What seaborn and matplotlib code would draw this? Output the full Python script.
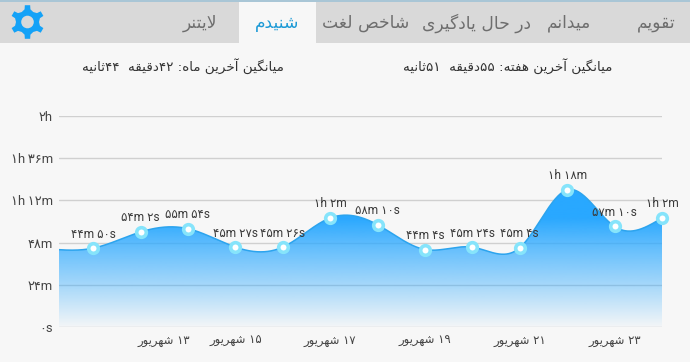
import numpy as np
import pandas as pd
import matplotlib
matplotlib.use("Agg")
import matplotlib.pyplot as plt
from matplotlib.patches import Rectangle, Polygon, Circle, PathPatch
from matplotlib.path import Path
import seaborn as sns

# chart values
days = [0, 1, 2, 3, 4, 5, 6, 7, 8, 9, 10, 11, 12]
minutes = [44, 54, 55, 45, 45, 62, 58, 44, 45, 45, 78, 57, 62]
seconds = [50, 2, 54, 27, 26, 0, 10, 4, 24, 4, 0, 10, 0]
point_labels = ["۴۴m ۵۰s", "۵۴m ۲s", "۵۵m ۵۴s", "۴۵m ۲۷s", "۴۵m ۲۶s", "۱h ۲m", "۵۸m ۱۰s",
                "۴۴m ۴s", "۴۵m ۲۴s", "۴۵m ۴s", "۱h ۱۸m", "۵۷m ۱۰s", "۱h ۲m"]
# the curve comes in from a point cut off by the left edge
hidden_day = -1
hidden_value = 44.6

y_ticks = [0, 24, 48, 72, 96, 120]
y_labels = ["۰s", "۲۴m", "۴۸m", "۱h ۱۲m", "۱h ۳۶m", "۲h"]
x_ticks = [1.5, 3, 5, 7, 9, 11]
x_labels = ["۱۳ شهریور", "۱۵ شهریور", "۱۷ شهریور", "۱۹ شهریور", "۲۱ شهریور", "۲۳ شهریور"]

tab_names = ["تقویم", "میدانم", "در حال یادگیری", "شاخص لغت", "شنیدم", "لایتنر"]
tab_x = [656, 569, 476, 366, 277, 200]
week_avg = "میانگین آخرین هفته: ۵۵دقیقه  ۵۱ثانیه"
month_avg = "میانگین آخرین ماه: ۴۲دقیقه  ۴۴ثانیه"

GREY = "#D9D9D9"
PAGE = "#F7F7F7"
BLUE = "#29A8FF"
FA = ["DejaVu Sans"]
MIXED = ["Roboto", "DejaVu Sans"]

# matplotlib does no arabic shaping, so pick the joined forms here
# letter: isolated, final, initial, medial
FORMS = {
    "ا": "\uFE8D\uFE8E", "آ": "\uFE81\uFE82", "د": "\uFEA9\uFEAA", "ر": "\uFEAD\uFEAE",
    "و": "\uFEED\uFEEE",
    "ب": "\uFE8F\uFE90\uFE91\uFE92", "پ": "\uFB56\uFB57\uFB58\uFB59", "ت": "\uFE95\uFE96\uFE97\uFE98",
    "ث": "\uFE99\uFE9A\uFE9B\uFE9C", "ح": "\uFEA1\uFEA2\uFEA3\uFEA4", "خ": "\uFEA5\uFEA6\uFEA7\uFEA8",
    "ش": "\uFEB5\uFEB6\uFEB7\uFEB8", "ص": "\uFEB9\uFEBA\uFEBB\uFEBC", "غ": "\uFECD\uFECE\uFECF\uFED0",
    "ف": "\uFED1\uFED2\uFED3\uFED4", "ق": "\uFED5\uFED6\uFED7\uFED8", "گ": "\uFB92\uFB93\uFB94\uFB95",
    "ل": "\uFEDD\uFEDE\uFEDF\uFEE0", "م": "\uFEE1\uFEE2\uFEE3\uFEE4", "ن": "\uFEE5\uFEE6\uFEE7\uFEE8",
    "ه": "\uFEE9\uFEEA\uFEEB\uFEEC", "ی": "\uFBFC\uFBFD\uFBFE\uFBFF",
}


def shape(text):
    text = text.replace("لا", "\uFEFB")
    out = []
    for i, ch in enumerate(text):
        if ch == "\uFEFB":
            prev = text[i - 1] if i else " "
            out.append("\uFEFC" if prev in FORMS and len(FORMS[prev]) == 4 else ch)
            continue
        if ch not in FORMS:
            out.append(ch)
            continue
        prev = text[i - 1] if i else " "
        nxt = text[i + 1] if i + 1 < len(text) else " "
        joins_prev = prev in FORMS and len(FORMS[prev]) == 4
        joins_next = len(FORMS[ch]) == 4 and (nxt in FORMS or nxt == "\uFEFB")
        if joins_prev and joins_next:
            out.append(FORMS[ch][3])
        elif joins_next:
            out.append(FORMS[ch][2])
        elif joins_prev:
            out.append(FORMS[ch][1])
        else:
            out.append(FORMS[ch][0])
    # visual order: reverse everything but keep digit runs as they are
    runs = []
    for ch in out:
        if ch in "۰۱۲۳۴۵۶۷۸۹" and runs and runs[-1][-1] in "۰۱۲۳۴۵۶۷۸۹":
            runs[-1] += ch
        else:
            runs.append(ch)
    return "".join(runs[::-1])


def natural_spline(x, y, n=900):
    x = np.asarray(x, float)
    y = np.asarray(y, float)
    h = np.diff(x)
    A = np.zeros((len(x), len(x)))
    b = np.zeros(len(x))
    A[0, 0] = A[-1, -1] = 1
    for i in range(1, len(x) - 1):
        A[i, i - 1:i + 2] = h[i - 1], 2 * (h[i - 1] + h[i]), h[i]
        b[i] = 6 * ((y[i + 1] - y[i]) / h[i] - (y[i] - y[i - 1]) / h[i - 1])
    m = np.linalg.solve(A, b)
    xs = np.linspace(x[0], x[-1], n)
    k = np.clip(np.searchsorted(x, xs) - 1, 0, len(h) - 1)
    t0 = x[k + 1] - xs
    t1 = xs - x[k]
    ys = (m[k] * t0**3 + m[k + 1] * t1**3) / (6 * h[k]) \
        + (y[k] / h[k] - m[k] * h[k] / 6) * t0 + (y[k + 1] / h[k] - m[k + 1] * h[k] / 6) * t1
    return xs, ys


sns.set_style("white")
plt.rcParams["font.family"] = MIXED

values = [m + s / 60 for m, s in zip(minutes, seconds)]
df = pd.DataFrame({"day": days, "value": values})
xs, ys = natural_spline([hidden_day] + days, [hidden_value] + values)
curve = pd.DataFrame({"day": xs, "value": ys})

W, H = 690, 362
fig = plt.figure(figsize=(W / 100, H / 100), dpi=100, facecolor=PAGE)

# page chrome in pixel coordinates
bg = fig.add_axes([0, 0, 1, 1], zorder=0)
bg.set_xlim(0, W)
bg.set_ylim(H, 0)
bg.axis("off")
bg.add_patch(Rectangle((0, 0), W, 43, color=GREY, lw=0))
bg.add_patch(Rectangle((0, 0), W, 1.5, color="#A9C6D6", lw=0))
bg.add_patch(Rectangle((239, 1.5), 77, 42, color=PAGE, lw=0))

for name, x in zip(tab_names, tab_x):
    active = name == "شنیدم"
    bg.text(x, 23, shape(name), ha="center", va="center", fontsize=12.3, family=FA,
            color="#1C9AD6" if active else "#6E6E6E")
bg.text(612, 66, shape(week_avg), ha="right", va="center", fontsize=9.7, family=FA, color="#333333")
bg.text(284, 66, shape(month_avg), ha="right", va="center", fontsize=9.7, family=FA, color="#333333")

# gear icon
gear = []
for i in range(6):
    a = np.deg2rad(60 * i)
    for da, r in [(-30, 11.5), (-13, 13), (-9, 17), (9, 17), (13, 13)]:
        ang = a + np.deg2rad(da)
        gear.append((27.5 + r * np.sin(ang), 22 - r * np.cos(ang)))
bg.add_patch(Polygon(gear, closed=True, color="#14A2F7", lw=0))
bg.add_patch(Circle((27.5, 22), 6.3, color=GREY, lw=0))

# chart axes, pixel box x 59-662, y 116-327
ax = fig.add_axes([59 / W, 1 - 327 / H, (662 - 59) / W, (327 - 116) / H], zorder=1)
ax.patch.set_alpha(0)
sns.despine(ax=ax, left=True, bottom=True)
ax.set_yticks(y_ticks)
ax.set_yticklabels([t.replace(" ", "\u2009") for t in y_labels], fontsize=9.4, color="#444444")
ax.set_xticks(x_ticks)
ax.set_xticklabels([shape(t) for t in x_labels], fontsize=8.4, color="#444444", family=FA)
ax.tick_params(axis="both", length=0)
ax.tick_params(axis="y", pad=4.3)
ax.tick_params(axis="x", pad=5)
ax.grid(axis="y", color="#D0D0D0", lw=1.0)
ax.grid(axis="x", visible=False)
ax.set_axisbelow(True)

# gradient under the curve
fade_y = np.linspace(0, 120, 400)
fade = np.interp(fade_y, [0, 24, 48, 62, 120], [0.02, 0.40, 0.76, 1, 1])
rgb = matplotlib.colors.to_rgb(BLUE)
img = np.ones((400, 1, 4))
img[:, :, :3] = rgb
img[:, 0, 3] = fade
im = ax.imshow(img, origin="lower", extent=[hidden_day, 12, 0, 120], aspect="auto", zorder=1.5)
outline = np.vstack([np.column_stack([xs, ys]), [12, 0], [hidden_day, 0]])
clip = PathPatch(Path(outline, closed=False), transform=ax.transData, fc="none", lw=0)
ax.add_patch(clip)
im.set_clip_path(clip)

sns.lineplot(data=curve, x="day", y="value", ax=ax, color="#2CA4EE", lw=1.1, zorder=2)
sns.scatterplot(data=df, x="day", y="value", ax=ax, s=48, color="white", edgecolor="#86E4FB",
                linewidth=2.6, zorder=3, clip_on=False)

for d, v, lab in zip(days, values, point_labels):
    ax.annotate(lab, (d, v), xytext=(0, 14), textcoords="offset pixels", ha="center", va="center",
                fontsize=8.6, color="#3A3A3A", family=MIXED, zorder=4, annotation_clip=False)

ax.set_xlim(-0.72, 12)
ax.set_ylim(0, 120)
ax.set_xlabel("")
ax.set_ylabel("")

fig.savefig("out.png", dpi=100, facecolor=PAGE)
